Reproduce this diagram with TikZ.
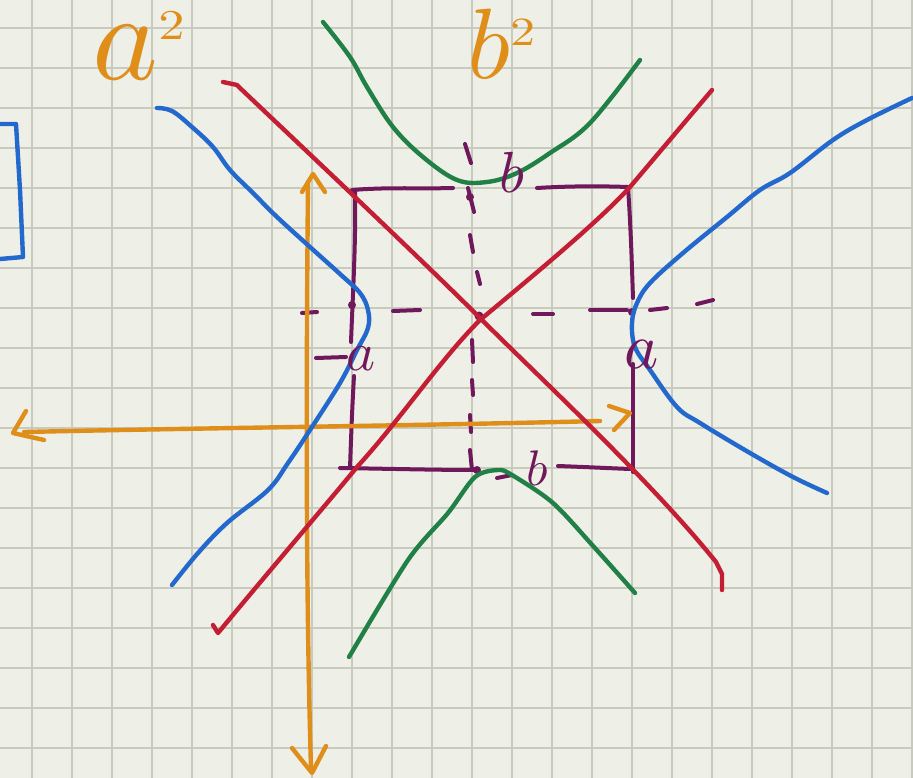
\documentclass[tikz,border=0pt]{standalone}
\usetikzlibrary{arrows.meta}
\definecolor{bgc}{RGB}{238,239,231}
\definecolor{gridc}{RGB}{200,202,190}
\definecolor{orng}{RGB}{224,142,26}
\definecolor{bluec}{RGB}{35,105,205}
\definecolor{redc}{RGB}{196,30,52}
\definecolor{greenc}{RGB}{32,128,70}
\definecolor{purp}{RGB}{112,24,92}
\begin{document}
\begin{tikzpicture}[x=1pt,y=-1pt,
  pen/.style={line width=4.4pt,line cap=round,line join=round},
  thinpen/.style={line width=4pt,line cap=round,line join=round},
  gridline/.style={gridc,line width=1.6pt},
  lbl/.style={inner sep=0pt,anchor=base west}]
\fill[bgc] (0,0) rectangle (913,778);
\useasboundingbox (0,0) rectangle (913,778);
% grid paper
\foreach \i in {0,...,22} \draw[gridline] ({31.7+40*\i},0) -- ({31.7+40*\i},778);
\foreach \j in {0,...,18} \draw[gridline] (0,{28+40*\j}) -- (913,{28+40*\j});

% ---------- purple box ----------
\begin{scope}[thinpen,purp]
  % top side
  \draw (352,190) .. controls (390,187) and (420,189) .. (453,188);
  \draw (537,188) .. controls (570,186) and (600,186) .. (628,187);
  % right side
  \draw (628,187) .. controls (631,230) and (632,270) .. (633,298);
  \draw (633,364) -- (633,472);
  % bottom side
  \draw (340,468) .. controls (400,469) and (440,470) .. (477,470);
  \draw (497,478) -- (512,475);
  \draw (558,466) .. controls (585,467) and (605,468) .. (630,469);
  % left side
  \draw (355,190) .. controls (356,240) and (353,290) .. (351,342);
  \draw (316,358) -- (346,357);
  \draw (354,376) .. controls (352,410) and (351,440) .. (350,468);
  % dots
  \fill (352,305) circle (4pt);
  \fill (632,312) circle (4pt);
  \fill (470,197) circle (4pt);
  \fill (477,470) circle (4pt);
  \fill (479,316) circle (4.5pt);
  % dashed horizontal
  \draw (302,313) -- (317,312);
  \draw (393,311) -- (420,310);
  \draw (533,314) -- (553,314);
  \draw (590,310) -- (627,310);
  \draw (650,310) -- (667,308);
  \draw (697,304) -- (713,300);
  % dashed vertical
  \draw (465,144) -- (471,163);
  \draw (468,188) -- (474,212);
  \draw (470,235) -- (473,252);
  \draw (477,272) -- (480,284);
  \draw (472,340) -- (473,362);
  \draw (472,380) -- (473,395);
  \draw (470,415) -- (471,432);
  \draw (470,450) -- (472,470);
\end{scope}

% ---------- orange axes ----------
\begin{scope}[pen,orng]
  \draw (308,182) .. controls (306,400) and (306,600) .. (311,768);
  \draw (302,192) -- (313,174) -- (325,192);
  \draw (292,748) -- (312,773) -- (326,746);
  \draw (24,432) .. controls (200,428) and (400,426) .. (600,421);
  \draw (26,411) -- (13,433) -- (44,440);
  \draw (609,406) -- (630,413) -- (614,430);
\end{scope}

% ---------- green curves ----------
\draw[pen,greenc] plot[smooth,tension=0.6] coordinates {(323,22) (350,57) (367,87) (393,127) (423,157) (457,180) (487,182) (517,173) (550,153) (590,123) (640,60)};
\draw[pen,greenc] plot[smooth,tension=0.5] coordinates {(349,657) (408,560) (448,513) (475,477) (498,470) (512,475) (553,503) (594,547) (635,593)};

% ---------- red asymptotes ----------
\draw[pen,redc] (223,82) -- (237,85) -- (240,88) .. controls (300,145) and (420,258) .. (480,318)
   .. controls (540,378) and (650,480) .. (716,562) -- (722,574) -- (722,590);
\draw[pen,redc] (213,625) -- (218,633) .. controls (270,570) and (330,500) .. (357,467)
   .. controls (400,420) and (440,360) .. (480,320)
   .. controls (540,270) and (600,220) .. (630,187) -- (712,90);

% ---------- blue hyperbola ----------
\draw[pen,bluec] plot[smooth,tension=0.6] coordinates {(157,108) (172,111) (192,127) (213,147) (230,170) (253,193) (277,217) (310,247) (340,274) (360,293) (368,310) (368,328) (357,350) (340,383) (310,430) (288,463) (268,490) (227,523) (198,553) (172,585)};
\draw[pen,bluec] plot[smooth,tension=0.6] coordinates {(912,98) (867,120) (833,140) (790,173) (760,190) (727,217) (683,253) (650,283) (637,303) (632,323) (635,347) (650,370) (677,407) (700,423) (750,453) (793,477) (827,493)};
\draw[pen,bluec] (0,124) -- (16,124) -- (20,190) -- (23,257) -- (0,259);

% ---------- labels ----------
\node[lbl,text=orng] (asq) at (92,80) {\scalebox{12.5}{$a$\raisebox{3.2pt}{\scalebox{0.42}[0.34]{$2$}}}};
\node[lbl,text=orng] (bsq) at (467,79) {\scalebox{10}{$b$\raisebox{3.3pt}{\scalebox{0.5}[0.4]{$2$}}}};
\node[lbl,text=purp] (btop) at (499,193) {\scalebox{5.8}{$b$}};
\node[lbl,text=purp] (bbot) at (526,485) {\scalebox{5}{$b$}};
\node[lbl,text=purp] (aleft) at (346,370) {\scalebox{5.5}{$a$}};
\node[lbl,text=purp] (aright) at (624,368) {\scalebox{6.5}{$a$}};
\end{tikzpicture}
\end{document}
